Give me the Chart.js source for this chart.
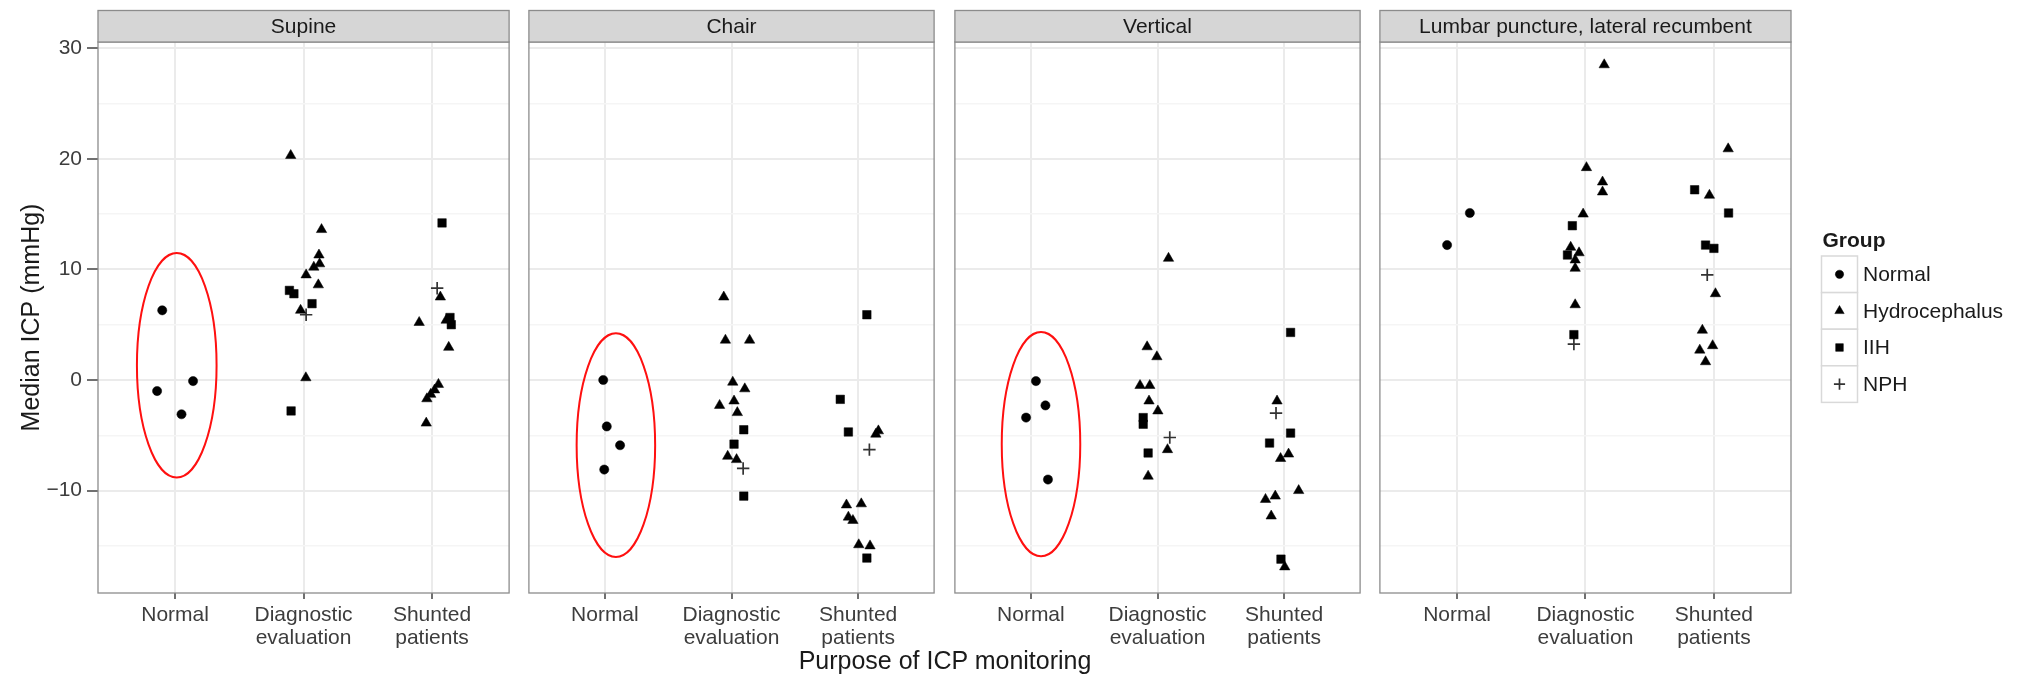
<!DOCTYPE html>
<html>
<head>
<meta charset="utf-8">
<title>Median ICP by posture and purpose of monitoring</title>
<script src="https://cdn.jsdelivr.net/npm/chart.js@4.4.1/dist/chart.umd.min.js"></script>
<style>
  html, body { margin: 0; padding: 0; background: #fff; }
  #wrap { position: relative; width: 2028px; height: 678px; overflow: hidden; background: #fff; }
  #wrap canvas { position: absolute; top: 0; }
  #xtitle {
    position: absolute; left: 0; width: 1890px; top: 646px; line-height: 30px;
    text-align: center; font: 25px "Liberation Sans", Arial, sans-serif; color: #1a1a1a;
  }
</style>
</head>
<body>
<div id="wrap">
  <div id="xtitle">Purpose of ICP monitoring</div>
</div>
<script>
// ---- data -------------------------------------------------------------
const panelTitles = ['Supine', 'Chair', 'Vertical', 'Lumbar puncture, lateral recumbent'];
const purposeLabels = [['Normal'], ['Diagnostic', 'evaluation'], ['Shunted', 'patients']];
const groupNames = ['Normal', 'Hydrocephalus', 'IIH', 'NPH'];
const yMajorTicks = [-10, 0, 10, 20, 30];
const yMinorTicks = [-15, -5, 5, 15, 25];

const N = 'Normal', H = 'Hydrocephalus', I = 'IIH', P = 'NPH';

// rows: [purpose (1..3), group, median ICP in mmHg, horizontal jitter]
const supine = [
  [1, N, 6.3, -0.10], [1, N, -1.0, -0.14], [1, N, -3.1, 0.05], [1, N, -0.1, 0.14],
  [2, H, 20.3, -0.10], [2, H, 13.6, 0.14], [2, H, 11.3, 0.12], [2, H, 10.5, 0.125],
  [2, H, 10.2, 0.08], [2, H, 9.5, 0.02], [2, H, 8.6, 0.115], [2, I, 8.1, -0.11],
  [2, I, 7.8, -0.075], [2, I, 6.9, 0.066], [2, H, 6.3, -0.023], [2, P, 5.9, 0.02],
  [2, H, 0.2, 0.018], [2, I, -2.8, -0.097],
  [3, I, 14.2, 0.078], [3, P, 8.3, 0.04], [3, H, 7.5, 0.065], [3, H, 5.2, -0.10],
  [3, I, 5.65, 0.14], [3, I, 5.0, 0.15], [3, H, 5.4, 0.11], [3, H, 2.95, 0.13],
  [3, H, -0.4, 0.05], [3, H, -0.9, 0.02], [3, H, -1.3, -0.01], [3, H, -1.7, -0.04],
  [3, H, -3.9, -0.045]
];
const chair = [
  [1, N, 0.0, -0.013], [1, N, -4.2, 0.015], [1, N, -5.9, 0.12], [1, N, -8.1, -0.005],
  [2, H, 7.5, -0.061], [2, H, 3.6, -0.048], [2, H, 3.6, 0.143], [2, H, -0.2, 0.01],
  [2, H, -0.8, 0.105], [2, H, -2.3, -0.094], [2, H, -1.9, 0.02], [2, H, -2.95, 0.046],
  [2, I, -4.5, 0.097], [2, I, -5.8, 0.02], [2, H, -6.9, -0.03], [2, H, -7.2, 0.04],
  [2, P, -8.0, 0.092], [2, I, -10.5, 0.097],
  [3, I, 5.9, 0.069], [3, I, -1.75, -0.141], [3, I, -4.7, -0.077], [3, H, -4.9, 0.14],
  [3, H, -4.6, 0.16], [3, P, -6.3, 0.089], [3, H, -11.3, -0.092], [3, H, -11.2, 0.025],
  [3, H, -12.4, -0.077], [3, H, -12.7, -0.041], [3, H, -14.9, 0.005], [3, H, -15.0, 0.094],
  [3, I, -16.1, 0.069]
];
const vertical = [
  [1, N, -0.1, 0.04], [1, N, -2.3, 0.115], [1, N, -3.4, -0.038], [1, N, -9.0, 0.135],
  [2, H, 11.0, 0.087], [2, H, 3.0, -0.082], [2, H, 2.1, -0.005], [2, H, -0.5, -0.138],
  [2, H, -0.5, -0.061], [2, H, -1.9, -0.067], [2, H, -2.8, 0.003], [2, I, -3.4, -0.113],
  [2, I, -4.0, -0.113], [2, P, -5.2, 0.097], [2, H, -6.3, 0.079], [2, I, -6.6, -0.074],
  [2, H, -8.7, -0.074],
  [3, I, 4.3, 0.051], [3, H, -1.9, -0.056], [3, P, -3.0, -0.064], [3, I, -4.8, 0.051],
  [3, I, -5.7, -0.115], [3, H, -7.1, -0.028], [3, H, -6.7, 0.035], [3, H, -10.0, 0.115],
  [3, H, -10.8, -0.147], [3, H, -10.5, -0.07], [3, H, -12.3, -0.102], [3, I, -16.2, -0.025],
  [3, H, -16.9, 0.005]
];
const lumbar = [
  [1, N, 12.2, -0.077], [1, N, 15.1, 0.10],
  [2, H, 28.5, 0.146], [2, H, 19.2, 0.008], [2, H, 17.9, 0.133], [2, H, 17.0, 0.133],
  [2, H, 15.0, -0.018], [2, I, 13.95, -0.102], [2, H, 12.0, -0.115], [2, H, 11.5, -0.05],
  [2, I, 11.3, -0.14], [2, H, 10.85, -0.08], [2, H, 10.1, -0.08], [2, H, 6.8, -0.08],
  [2, I, 4.1, -0.09], [2, P, 3.25, -0.09],
  [3, H, 20.9, 0.111], [3, I, 17.2, -0.15], [3, H, 16.7, -0.035], [3, I, 15.1, 0.114],
  [3, I, 12.2, -0.065], [3, I, 11.9, 0.0], [3, P, 9.5, -0.052], [3, H, 7.8, 0.012],
  [3, H, 4.5, -0.09], [3, H, 3.1, -0.01], [3, H, 2.7, -0.11], [3, H, 1.65, -0.065]
];
const panelData = [supine, chair, vertical, lumbar];

// red rings around the normal subjects: [panel, purpose centre, ICP centre, half-width, half-height]
const highlightRings = [
  [0, 1.013, 1.33, 0.31, 10.15],
  [1, 1.087, -5.89, 0.31, 10.11],
  [2, 1.080, -5.80, 0.31, 10.14]
];

// ---- layout & style ---------------------------------------------------
const FONT = '"Liberation Sans", Arial, Helvetica, sans-serif';
const L = {
  W: 2028, H: 678, stripTop: 10.5, plotTop: 42, xAxisH: 85,
  yAxisW: 98, plotW: 417, lefts: [98, 523, 949, 1374]
};
const MARK = {
  Normal:        { pointStyle: 'circle',   pointRadius: 4.6, backgroundColor: '#000', borderColor: '#000', borderWidth: 0.5 },
  Hydrocephalus: { pointStyle: 'triangle', pointRadius: 6.0, backgroundColor: '#000', borderColor: '#000', borderWidth: 0.5 },
  IIH:           { pointStyle: 'rect',     pointRadius: 6.0, backgroundColor: '#000', borderColor: '#000', borderWidth: 0.5 },
  NPH:           { pointStyle: 'cross',    pointRadius: 6.2, backgroundColor: '#333', borderColor: '#333', borderWidth: 1.7 }
};
const isMajor = v => yMajorTicks.includes(v);
const fmtTick = v => (v < 0 ? '\u2212' + Math.abs(v) : String(v));

// strip header, panel frame and highlight rings
const facetDecor = {
  id: 'facetDecor',
  afterDatasetsDraw(chart, args, opts) {
    const { ctx, scales: { x, y } } = chart;
    ctx.save();
    ctx.strokeStyle = '#ff1010';
    ctx.lineWidth = 2;
    highlightRings.filter(r => r[0] === opts.index).forEach(r => {
      const cx = x.getPixelForValue(r[1]);
      const cy = y.getPixelForValue(r[2]);
      const rx = Math.abs(x.getPixelForValue(r[1] + r[3]) - cx);
      const ry = Math.abs(y.getPixelForValue(r[2] + r[4]) - cy);
      ctx.beginPath();
      ctx.ellipse(cx, cy, rx, ry, 0, 0, Math.PI * 2);
      ctx.stroke();
    });
    ctx.restore();
  },
  afterDraw(chart, args, opts) {
    const { ctx, chartArea: a } = chart;
    ctx.save();
    ctx.strokeStyle = '#8c8c8c';
    ctx.lineWidth = 1.3;
    ctx.strokeRect(a.left, a.top, a.right - a.left, a.bottom - a.top);
    ctx.fillStyle = '#d6d6d6';
    ctx.fillRect(a.left, L.stripTop, a.right - a.left, a.top - L.stripTop);
    ctx.strokeRect(a.left, L.stripTop, a.right - a.left, a.top - L.stripTop);
    ctx.fillStyle = '#1a1a1a';
    ctx.font = '21px ' + FONT;
    ctx.textAlign = 'center';
    ctx.textBaseline = 'middle';
    ctx.fillText(opts.title, (a.left + a.right) / 2, (L.stripTop + a.top) / 2 + 1);
    ctx.restore();
  }
};

// group legend drawn to the right of the last panel
const groupLegend = {
  id: 'groupLegend',
  afterDraw(chart, args, opts) {
    if (!opts.show) return;
    const ctx = chart.ctx;
    const x0 = chart.chartArea.right + 30.5;
    const rowTop = 256, rowH = 36.6, keyW = 36;
    ctx.save();
    ctx.fillStyle = '#1a1a1a';
    ctx.font = 'bold 21px ' + FONT;
    ctx.textAlign = 'left';
    ctx.textBaseline = 'middle';
    ctx.fillText('Group', x0 + 1, 241);
    groupNames.forEach((g, k) => {
      const top = rowTop + k * rowH;
      ctx.fillStyle = '#fff';
      ctx.fillRect(x0, top, keyW, rowH);
      ctx.strokeStyle = '#d9d9d9';
      ctx.lineWidth = 1.5;
      ctx.strokeRect(x0, top, keyW, rowH);
      const m = MARK[g];
      ctx.fillStyle = m.backgroundColor;
      ctx.strokeStyle = m.borderColor;
      ctx.lineWidth = m.borderWidth;
      Chart.helpers.drawPoint(ctx, {
        pointStyle: m.pointStyle, radius: m.pointRadius * 0.9, rotation: 0, borderWidth: m.borderWidth
      }, x0 + keyW / 2, top + rowH / 2);
      ctx.fillStyle = '#1a1a1a';
      ctx.font = '21px ' + FONT;
      ctx.fillText(g, x0 + keyW + 5.5, top + rowH / 2 + 1);
    });
    ctx.restore();
  }
};

function buildPanel(i) {
  const first = i === 0, last = i === panelTitles.length - 1;
  const cLeft = first ? 0 : L.lefts[i] - 2;
  const padL = first ? 0 : 2;
  const cWidth = last ? L.W - cLeft : (first ? L.yAxisW + L.plotW + 2 : L.plotW + 4);
  const padR = cWidth - padL - (first ? L.yAxisW : 0) - L.plotW;

  const canvas = document.createElement('canvas');
  canvas.width = cWidth;
  canvas.height = L.H;
  canvas.style.left = cLeft + 'px';
  canvas.style.width = cWidth + 'px';
  canvas.style.height = L.H + 'px';
  document.getElementById('wrap').insertBefore(canvas, document.getElementById('xtitle'));

  const datasets = groupNames.map(g => Object.assign({
    label: g,
    data: panelData[i].filter(r => r[1] === g).map(r => ({ x: r[0] + r[3], y: r[2] }))
  }, MARK[g]));

  return new Chart(canvas, {
    type: 'scatter',
    data: { datasets },
    plugins: [facetDecor, groupLegend],
    options: {
      responsive: false,
      animation: false,
      events: [],
      devicePixelRatio: 1,
      layout: { padding: { left: padL, right: padR, top: L.plotTop, bottom: 0 } },
      plugins: {
        legend: { display: false },
        tooltip: { enabled: false },
        facetDecor: { title: panelTitles[i], index: i },
        groupLegend: { show: last }
      },
      scales: {
        x: {
          type: 'linear', min: 0.4, max: 3.6,
          afterBuildTicks: s => { s.ticks = purposeLabels.map((_, k) => ({ value: k + 1 })); },
          afterFit: s => { s.height = L.xAxisH; },
          border: { display: false },
          grid: { color: '#ebebeb', lineWidth: 2, drawTicks: true, tickLength: 6, tickColor: '#707070', tickWidth: 2 },
          ticks: {
            autoSkip: false, maxRotation: 0, padding: 4, color: '#3d3d3d',
            font: { family: FONT, size: 21, lineHeight: 1.12 },
            callback: v => purposeLabels[Math.round(v) - 1]
          }
        },
        y: {
          type: 'linear', min: -19.26, max: 30.56,
          afterBuildTicks: s => {
            s.ticks = yMinorTicks.concat(yMajorTicks).sort((a, b) => a - b).map(v => ({ value: v }));
          },
          afterFit: s => { s.width = first ? L.yAxisW : 0; },
          border: { display: false },
          grid: {
            color: c => (isMajor(c.tick.value) ? '#ebebeb' : '#f5f5f5'),
            lineWidth: c => (isMajor(c.tick.value) ? 2 : 1.5),
            drawTicks: first, tickLength: 11, tickWidth: 2,
            tickColor: c => (isMajor(c.tick.value) ? '#707070' : 'rgba(0,0,0,0)')
          },
          ticks: {
            display: first, padding: 5, color: '#3d3d3d',
            font: { family: FONT, size: 21 },
            callback: v => (isMajor(v) ? fmtTick(v) : '')
          },
          title: {
            display: first, text: 'Median ICP (mmHg)', color: '#1a1a1a',
            font: { family: FONT, size: 25, lineHeight: 1.2 },
            padding: { top: 17, bottom: 0 }
          }
        }
      }
    }
  });
}

panelTitles.forEach((_, i) => buildPanel(i));
</script>
</body>
</html>
